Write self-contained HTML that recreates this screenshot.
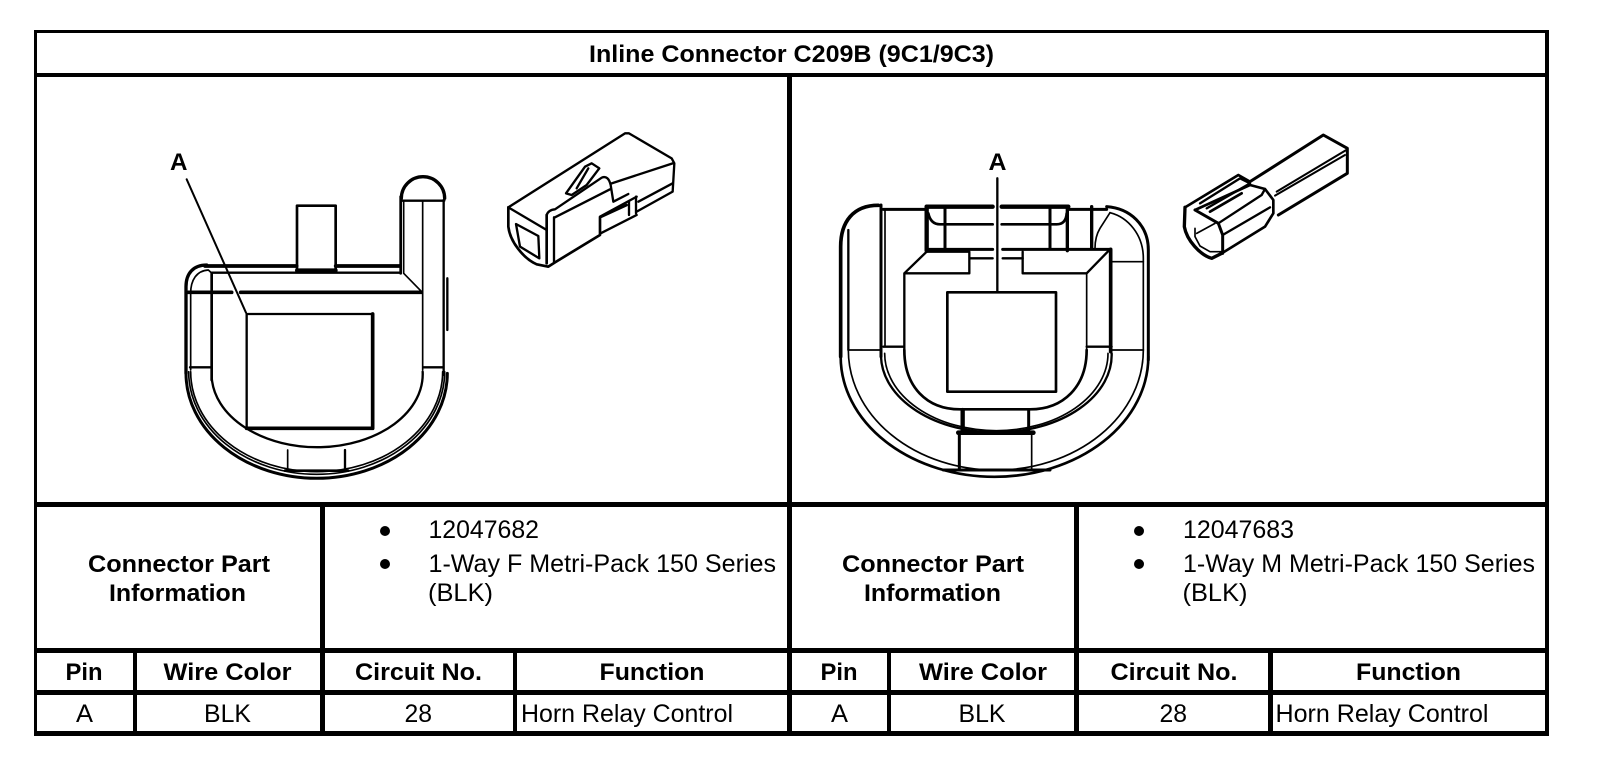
<!DOCTYPE html>
<html><head><meta charset="utf-8"><style>
html,body{margin:0;padding:0;background:#fff}
svg{display:block}
text{font-family:"Liberation Sans",Arial,sans-serif;fill:#000}
.b{font-weight:bold;font-size:24px}
.r{font-size:25px}
.d{fill:none;stroke:#000;stroke-linejoin:round;stroke-linecap:round}
</style></head><body>
<svg xmlns="http://www.w3.org/2000/svg" width="1600" height="770" viewBox="0 0 1600 770">
<rect width="1600" height="770" fill="#fff"/>
<g fill="#000" shape-rendering="crispEdges">
<rect x="34" y="30" width="3" height="706"/>
<rect x="1545" y="30" width="4" height="706"/>
<rect x="34" y="30" width="1515" height="3"/>
<rect x="34" y="73" width="1515" height="4"/>
<rect x="34" y="502" width="1515" height="5"/>
<rect x="34" y="648" width="1515" height="5"/>
<rect x="34" y="690" width="1515" height="5"/>
<rect x="34" y="731" width="1515" height="5"/>
<rect x="787" y="73" width="5" height="660"/>
<rect x="320" y="502" width="5" height="230"/>
<rect x="1074" y="502" width="5" height="230"/>
<rect x="133" y="648" width="4" height="85"/>
<rect x="513" y="648" width="4" height="85"/>
<rect x="887" y="648" width="4" height="85"/>
<rect x="1268" y="648" width="5" height="85"/>
</g>

<text class="b" x="589" y="62" textLength="405" lengthAdjust="spacingAndGlyphs">Inline Connector C209B (9C1/9C3)</text>
<text class="b" x="88" y="572" textLength="182" lengthAdjust="spacingAndGlyphs">Connector Part</text>
<text class="b" x="109" y="601" textLength="137" lengthAdjust="spacingAndGlyphs">Information</text>
<text class="b" x="842" y="572" textLength="182" lengthAdjust="spacingAndGlyphs">Connector Part</text>
<text class="b" x="864" y="601" textLength="137" lengthAdjust="spacingAndGlyphs">Information</text>

<circle cx="385" cy="531" r="5"/><circle cx="385" cy="564" r="5"/>
<circle cx="1139" cy="531" r="5"/><circle cx="1139" cy="564" r="5"/>
<text class="r" x="428.5" y="538" textLength="110.5" lengthAdjust="spacingAndGlyphs">12047682</text>
<text class="r" x="428.5" y="572" textLength="347.5" lengthAdjust="spacingAndGlyphs">1-Way F Metri-Pack 150 Series</text>
<text class="r" x="428" y="601" textLength="65" lengthAdjust="spacingAndGlyphs">(BLK)</text>
<text class="r" x="1183" y="538" textLength="111" lengthAdjust="spacingAndGlyphs">12047683</text>
<text class="r" x="1183" y="572" textLength="352" lengthAdjust="spacingAndGlyphs">1-Way M Metri-Pack 150 Series</text>
<text class="r" x="1182.5" y="601" textLength="65" lengthAdjust="spacingAndGlyphs">(BLK)</text>

<text class="b" x="65.5" y="680" textLength="37" lengthAdjust="spacingAndGlyphs">Pin</text>
<text class="b" x="163.5" y="680" textLength="128" lengthAdjust="spacingAndGlyphs">Wire Color</text>
<text class="b" x="355" y="680" textLength="127" lengthAdjust="spacingAndGlyphs">Circuit No.</text>
<text class="b" x="599.5" y="680" textLength="105" lengthAdjust="spacingAndGlyphs">Function</text>
<text class="b" x="820.5" y="680" textLength="37" lengthAdjust="spacingAndGlyphs">Pin</text>
<text class="b" x="919" y="680" textLength="128" lengthAdjust="spacingAndGlyphs">Wire Color</text>
<text class="b" x="1110.5" y="680" textLength="127" lengthAdjust="spacingAndGlyphs">Circuit No.</text>
<text class="b" x="1356" y="680" textLength="105" lengthAdjust="spacingAndGlyphs">Function</text>

<text class="r" x="76" y="722" textLength="17" lengthAdjust="spacingAndGlyphs">A</text>
<text class="r" x="204" y="722" textLength="47" lengthAdjust="spacingAndGlyphs">BLK</text>
<text class="r" x="404.5" y="722" textLength="27.5" lengthAdjust="spacingAndGlyphs">28</text>
<text class="r" x="521" y="722" textLength="212" lengthAdjust="spacingAndGlyphs">Horn Relay Control</text>
<text class="r" x="831" y="722" textLength="17" lengthAdjust="spacingAndGlyphs">A</text>
<text class="r" x="958.5" y="722" textLength="47" lengthAdjust="spacingAndGlyphs">BLK</text>
<text class="r" x="1159.5" y="722" textLength="27.5" lengthAdjust="spacingAndGlyphs">28</text>
<text class="r" x="1275.5" y="722" textLength="213" lengthAdjust="spacingAndGlyphs">Horn Relay Control</text>

<text class="b" x="170" y="170" textLength="17.5" lengthAdjust="spacingAndGlyphs">A</text>
<text class="b" x="988.5" y="170" textLength="18" lengthAdjust="spacingAndGlyphs">A</text>

<!-- Left connector -->
<g transform="translate(150 130) scale(.33333)" stroke-width="7">
<path class="d" stroke-width="6" d="M110,148L288,548"/>
<rect class="d" x="290" y="552" width="378" height="343" stroke-width="7"/>
<path class="d" stroke-width="11" d="M668,552V895H290"/>
<path class="d" stroke-width="8" d="M441,420V227H557V420"/>
<path class="d" stroke-width="12" d="M441,421H557"/>
<path class="d" stroke-width="11" d="M165,408H440M557,408H750"/>
<path class="d" d="M185,428H750"/>
<path class="d" stroke-width="11" d="M115,487H245M272,487H815"/>
<path class="d" stroke-width="8" d="M752,430V200"/>
<path class="d" stroke-width="5" d="M761,215V430L815,485"/>
<path class="d" stroke-width="5" d="M818,215V720"/>
<path class="d" stroke-width="10" d="M754,205A65,65 0 0 1 884,205"/>
<path class="d" stroke-width="7" d="M755,212H883"/>
<path class="d" stroke-width="7" d="M881,210V735"/>
<path class="d" stroke-width="7" d="M892,445V600"/>
<path class="d" stroke-width="10" d="M108,730V470C108,430 130,405 170,405"/>
<path class="d" stroke-width="5" d="M122,720V490C122,450 140,422 175,420L186,430"/>
<path class="d" stroke-width="8" d="M185,430V750"/>
<path class="d" stroke-width="9" d="M108,730A392,315 0 0 0 892,730"/>
<path class="d" stroke-width="5" d="M122,725A378,300 0 0 0 878,725"/>
<path class="d" stroke-width="5" d="M116,725A384,308 0 0 0 884,725"/>
<path class="d" stroke-width="7" d="M185,740A315,218 0 0 0 818,725"/>
<path class="d" stroke-width="5" d="M413,960V1022"/>
<path class="d" stroke-width="7" d="M585,960V1022"/>
<path class="d" stroke-width="8" d="M405,1022H595"/>
<path class="d" stroke-width="7" d="M120,712H185M820,712H880"/>
</g>

<!-- Left isometric -->
<g transform="translate(480 130) scale(.33333)" stroke-width="7">
<path class="d" d="M85,232L435,10H447L575,85L583,100L578,185L470,245"/>
<path class="d" d="M85,232L200,300"/>
<path class="d" stroke-width="8" d="M85,232V290C90,335 130,385 170,403L205,410L225,397L360,315V262L440,225"/>
<path class="d" d="M108,282L175,318L178,385L120,350Z"/>
<path class="d" stroke-width="8" d="M200,255V400"/>
<path class="d" d="M222,262V395"/>
<path class="d" d="M200,255Q205,240 225,238L365,143Q385,135 392,165L400,215L445,192"/>
<path class="d" d="M225,262L390,178"/>
<path class="d" d="M395,160L578,100"/>
<path class="d" d="M475,215L578,160"/>
<path class="d" d="M360,260L470,200"/>
<path class="d" d="M447,215V255M468,200V250"/>
<path class="d" d="M362,310L470,255"/>
<path class="d" d="M258,190L315,110L335,100L358,115L320,165L275,195ZM290,175L325,115"/>
</g>

<!-- Right connector -->
<g transform="translate(810 130) scale(.33333)" stroke-width="7">
<path class="d" stroke-width="7" d="M562,145V487"/>
<rect class="d" x="412" y="487" width="326" height="298" stroke-width="8"/>
<path class="d" stroke-width="11" d="M205,226C130,226 92,275 92,350V680"/>
<path class="d" stroke-width="7" d="M115,300V660"/>
<path class="d" stroke-width="5" d="M118,660H210"/>
<path class="d" stroke-width="9" d="M213,225V680"/>
<path class="d" stroke-width="5" d="M225,240V650"/>
<path class="d" stroke-width="9" d="M220,238H350"/>
<path class="d" stroke-width="13" d="M350,230H548M575,230H775"/>
<path class="d" stroke-width="13" d="M350,230V362"/>
<path class="d" stroke-width="9" d="M405,235V355M720,235V355"/>
<path class="d" stroke-width="10" d="M772,230V362M845,230V355"/>
<path class="d" stroke-width="9" d="M775,238H890"/>
<path class="d" stroke-width="8" d="M355,250Q362,283 390,283H548M575,283H740Q768,283 770,250"/>
<path class="d" stroke-width="9" d="M350,358H548M578,358H900"/>
<path class="d" stroke-width="7" d="M480,385H548M578,385H638"/>
<path class="d" stroke-width="7" d="M283,660V430L350,365H478V430H283"/>
<path class="d" stroke-width="7" d="M638,365V430H830L900,358"/>
<path class="d" stroke-width="5" d="M830,430V660"/>
<path class="d" stroke-width="11" d="M902,358V665"/>
<path class="d" stroke-width="8" d="M283,660C283,770 350,838 450,838H660C760,838 830,770 830,660"/>
<path class="d" stroke-width="7" d="M220,650H283M830,650H905"/>
<path class="d" stroke-width="13" d="M458,840V905"/>
<path class="d" stroke-width="9" d="M656,840V905"/>
<path class="d" stroke-width="14" d="M445,908H670"/>
<path class="d" stroke-width="9" d="M448,910V1020"/>
<path class="d" stroke-width="5" d="M665,912V1020"/>
<path class="d" stroke-width="9" d="M400,1020H720"/>
<path class="d" stroke-width="7" d="M213,680A346,232 0 0 0 905,670"/>
<path class="d" stroke-width="5" d="M224,670A335,232 0 0 0 894,670"/>
<path class="d" stroke-width="8" d="M92,680A461,360 0 0 0 1015,680"/>
<path class="d" stroke-width="5" d="M115,660A442,360 0 0 0 1000,660"/>
<path class="d" stroke-width="9" d="M890,230C960,235 1015,285 1015,360V690"/>
<path class="d" stroke-width="5" d="M900,248C955,262 1000,315 1000,385V660"/>
<path class="d" stroke-width="5" d="M900,248L870,295Q855,320 855,355"/>
<path class="d" stroke-width="5" d="M905,395H1000M905,660H1000"/>
</g>

<!-- Right isometric -->
<g transform="translate(1150 120) scale(.33333)" stroke-width="8">
<path class="d" stroke-width="9" d="M300,185L520,45L592,85V160L385,285"/>
<path class="d" stroke-width="6" d="M380,215L592,88"/>
<path class="d" stroke-width="6" d="M375,227L585,105"/>
<path class="d" stroke-width="8" d="M105,262L265,165L300,185"/>
<path class="d" stroke-width="10" d="M105,262L103,320C110,360 150,405 185,415L215,400"/>
<path class="d" stroke-width="9" d="M135,270L205,310L218,345V400"/>
<path class="d" stroke-width="8" d="M135,270L300,195L345,207L370,240V280L345,320L215,400"/>
<path class="d" stroke-width="7" d="M205,310L335,225L345,207"/>
<path class="d" stroke-width="7" d="M218,345L360,262"/>
<path class="d" stroke-width="5" d="M140,340L195,310"/>
<path class="d" stroke-width="5" d="M135,325V350L150,378L180,395L215,395"/>
<path class="d" stroke-width="7" d="M170,265L300,190"/>
<path class="d" stroke-width="8" d="M180,275L275,220"/>
<path class="d" stroke-width="7" d="M150,250L270,175L300,190"/>
</g>
</svg>
</body></html>
